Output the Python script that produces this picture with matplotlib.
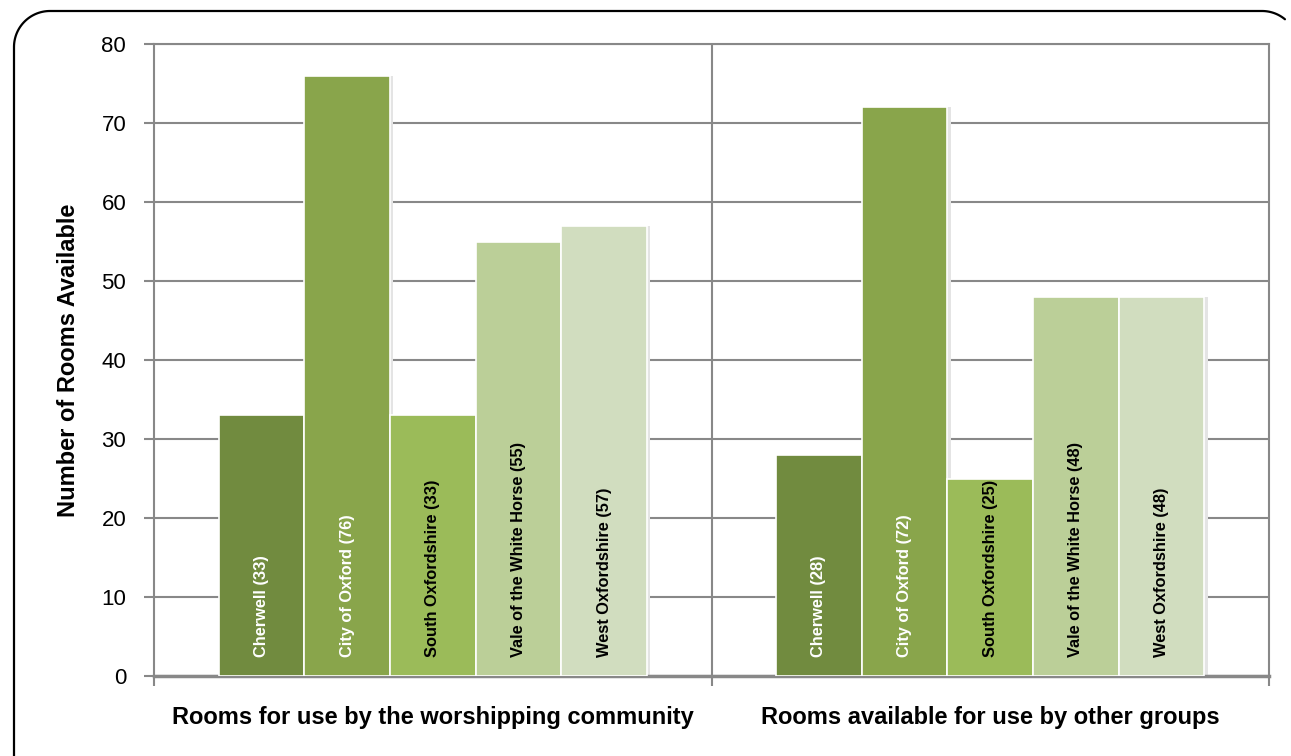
import matplotlib
matplotlib.use("Agg")
import matplotlib.pyplot as plt
import numpy as np

plt.rcParams['font.family'] = ['Liberation Sans', 'DejaVu Sans']

groups = ["Rooms for use by the worshipping community",
          "Rooms available for use by other groups"]
districts = ["Cherwell", "City of Oxford", "South Oxfordshire",
             "Vale of the White Horse", "West Oxfordshire"]
worship_rooms = [33, 76, 33, 55, 57]
other_rooms = [28, 72, 25, 48, 48]
bar_colors = ["#718B3F", "#89A54B", "#9BBB59", "#BBCF98", "#D1DDBF"]
label_colors = ["white", "white", "black", "black", "black"]

W, H = 1291, 756
fig = plt.figure(figsize=(W / 100, H / 100), dpi=100)

# background axes in pixel units for the rounded frame
bg = fig.add_axes([0, 0, 1, 1], zorder=0)
bg.set_xlim(0, W)
bg.set_ylim(H, 0)
bg.axis("off")
r = 36
left, top, right = 14, 11, 1298
t1 = np.linspace(np.pi, 1.5 * np.pi, 30)
t2 = np.linspace(1.5 * np.pi, 1.72 * np.pi, 20)
fx = np.concatenate([[left], left + r + r * np.cos(t1), right - r + r * np.cos(t2)])
fy = np.concatenate([[H + 5], top + r + r * np.sin(t1), top + r + r * np.sin(t2)])
bg.plot(fx, fy, color="black", linewidth=1.6, solid_capstyle="round")

ax = fig.add_axes([154 / W, 1 - 676 / H, 1115 / W, 632 / H], zorder=1)
ax.patch.set_alpha(0)

width = 0.1537
x = np.arange(len(groups))
series = [worship_rooms, other_rooms]
for i, name in enumerate(districts):
    vals = [s[i] for s in series]
    pos = x + (i - 2) * width
    # soft shadow to the right of each bar
    ax.bar(pos + 0.006, vals, width=width, color="#e4e4e4", zorder=2)
    bars = ax.bar(pos, vals, width=width, color=bar_colors[i],
                  edgecolor="white", linewidth=1.2, zorder=3)
    for b, v in zip(bars, vals):
        ax.text(b.get_x() + b.get_width() / 2, 2.4, f"{name} ({v})",
                rotation=90, ha="center", va="bottom", fontsize=11.8,
                fontweight="bold", color=label_colors[i], zorder=4)

ax.set_xlim(-0.5, 1.5)
ax.set_ylim(0, 80)
ax.set_yticks(range(0, 81, 10))
ax.yaxis.grid(True, color="#888888", linewidth=1.5, zorder=1)
ax.axvline(0.5, color="#888888", linewidth=1.5, zorder=1)
ax.set_axisbelow(True)

ax.set_xticks([-0.5, 0.5, 1.5])
ax.set_xticklabels([])
ax.tick_params(axis="x", length=7, width=1.5, color="#888888", direction="out")
ax.tick_params(axis="y", length=7, width=1.5, color="#888888",
               labelsize=16, pad=13)
for side in ["left", "bottom", "right", "top"]:
    ax.spines[side].set_color("#888888")
    ax.spines[side].set_linewidth(1.5)
ax.spines["bottom"].set_linewidth(2.5)

for xi, g in zip(x, groups):
    ax.text(xi, -5.3, g, ha="center", va="center", fontsize=17,
            fontweight="bold")

ax.set_ylabel("Number of Rooms Available", fontsize=17, fontweight="bold")
ax.yaxis.set_label_coords(-74 / 1115, 0.5)

fig.savefig("out.png", dpi=100)
